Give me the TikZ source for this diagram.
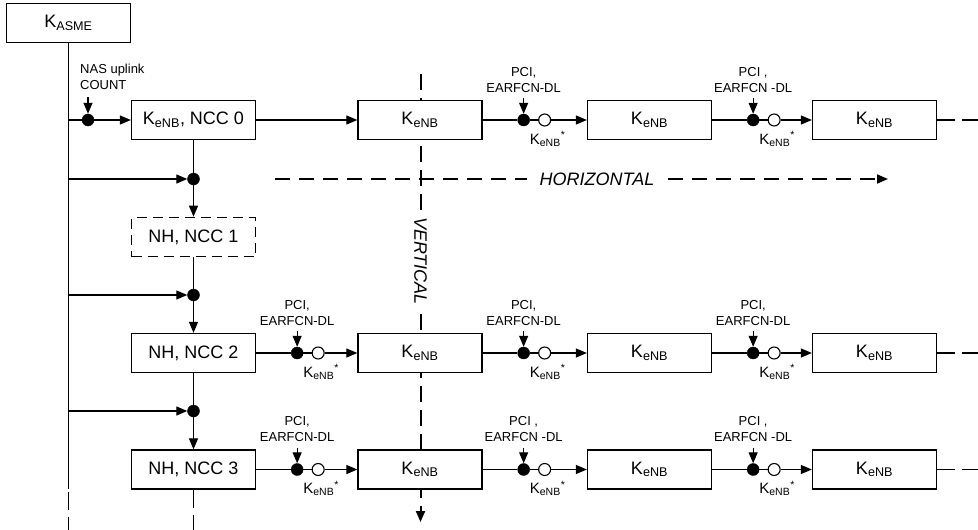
\documentclass[tikz,border=0pt]{standalone}
\usepackage{fontspec}
\setmainfont{Liberation Sans}
\usetikzlibrary{arrows.meta,calc}
\tikzset{
  box/.style={draw, fill=white, line width=1.3pt, minimum width=124pt, minimum height=39pt, inner sep=0pt, font=\fontsize{18}{20}\selectfont},
  dashbox/.style={box, line width=1.6pt, dash pattern=on 10pt off 6pt},
  fdot/.style={circle, fill=black, draw=black, minimum size=12pt, inner sep=0pt},
  odot/.style={circle, fill=white, draw=black, line width=1.1pt, minimum size=12pt, inner sep=0pt},
  lbl/.style={font=\fontsize{13}{16}\selectfont, align=center, inner sep=0pt},
  klbl/.style={font=\fontsize{15}{16}\selectfont, inner sep=0pt},
  arr/.style={-{Triangle[length=11pt,width=9pt]}},
  conn/.style={line width=1.2pt},
  vdash/.style={line width=2pt, dash pattern=on 16pt off 8pt},
  hdash/.style={line width=1.8pt, dash pattern=on 15pt off 9pt},
  tail/.style={line width=1.5pt, dash pattern=on 18pt off 7pt},
  axislbl/.style={font=\fontsize{18}{20}\selectfont\itshape, inner sep=1pt},
}
\newcommand\lnk[5]{%
  \node[fdot] (#3d) at ($(#1.east)+(41,0)$) {};
  \node[odot] (#3o) at ($(#1.east)+(62,0)$) {};
  \coordinate (#3a) at ($(#3d)+(0,-22)$);
  \draw[conn] (#1.east) -- (#3d);
  \draw[conn] (#3d) -- (#3o);
  \draw[conn,arr] (#3o) -- (#2.west);
  \node[lbl] (#3t) at ($(#3d)+(0,-40)$) {#4\\#5};
  \draw[conn,arr] (#3a) -- (#3d.north);
  \node[klbl] (#3k) at ($(#3o)+(3,19)$) {K\textsubscript{eNB}\textsuperscript{*}};
}
\begin{document}
\begin{tikzpicture}[x=1pt,y=-1pt]
\useasboundingbox (0,0) rectangle (978,530);

% axes
\coordinate (vtop) at (420.5,74);
\coordinate (vbot) at (420.5,522);
\draw[vdash,arr] (vtop) -- (vbot);
\node[axislbl, fill=white, rotate=-90] (vl) at (420.5,261) {VERTICAL};
\coordinate (h1) at (275,179);
\coordinate (h2) at (527,179);
\coordinate (h3) at (668,179);
\coordinate (h4) at (888,179);
\draw[hdash] (h1) -- (h2);
\node[axislbl] (hl) at (597,179) {HORIZONTAL};
\draw[hdash,arr] (h3) -- (h4);

% boxes
\node[box] (kasme) at (68.5,23) {K\textsubscript{ASME}};
\node[box] (b00) at (193.5,120) {K\textsubscript{eNB}, NCC 0};
\node[box] (b01) at (420,120) {K\textsubscript{eNB}};
\node[box] (b02) at (649.5,120) {K\textsubscript{eNB}};
\node[box] (b03) at (874.5,120) {K\textsubscript{eNB}};
\node[dashbox] (n1) at (193.5,237) {NH, NCC 1};
\node[box] (n2) at (193.5,353) {NH, NCC 2};
\node[box] (b21) at (420,353) {K\textsubscript{eNB}};
\node[box] (b22) at (649.5,353) {K\textsubscript{eNB}};
\node[box] (b23) at (874.5,353) {K\textsubscript{eNB}};
\node[box] (n3) at (193.5,469.5) {NH, NCC 3};
\node[box] (b31) at (420,469.5) {K\textsubscript{eNB}};
\node[box] (b32) at (649.5,469.5) {K\textsubscript{eNB}};
\node[box] (b33) at (874.5,469.5) {K\textsubscript{eNB}};

% main vertical line
\coordinate (mend) at (68.5,489);
\coordinate (mdash) at (68.5,492);
\coordinate (mbot) at (68.5,530);
\draw[conn] (kasme.south) -- (mend);
\draw[tail] (mdash) -- (mbot);

% row 0 input
\coordinate (j0) at (68.5,120);
\node[fdot] (d0) at (88,120) {};
\node[lbl, align=left, anchor=west] (nas) at (80,77) {NAS uplink\\COUNT};
\coordinate (d0a) at (88,97);
\draw[conn] (j0) -- (d0);
\draw[conn,arr] (d0) -- (b00.west);
\draw[conn,arr] (d0a) -- (d0.north);
\draw[conn,arr] (b00.east) -- (b01.west);

% vertical chain
\node[fdot] (j1) at (193.5,179) {};
\node[fdot] (j2) at (193.5,295) {};
\node[fdot] (j3) at (193.5,411) {};
\coordinate (m1) at (68.5,179);
\coordinate (m2) at (68.5,295);
\coordinate (m3) at (68.5,411);
\draw[conn,arr] (m1) -- (j1.west);
\draw[conn,arr] (m2) -- (j2.west);
\draw[conn,arr] (m3) -- (j3.west);
\draw[conn] (b00.south) -- (j1);
\draw[conn,arr] (j1.south) -- (n1.north);
\draw[conn] (n1.south) -- (j2);
\draw[conn,arr] (j2.south) -- (n2.north);
\draw[conn] (n2.south) -- (j3);
\draw[conn,arr] (j3.south) -- (n3.north);
\coordinate (n3bot) at (193.5,530);
\draw[tail] (n3.south) -- (n3bot);

% links
\lnk{b01}{b02}{la}{PCI,}{EARFCN-DL}
\lnk{b02}{b03}{lb}{PCI ,}{EARFCN -DL}
\lnk{n2}{b21}{lc}{PCI,}{EARFCN-DL}
\lnk{b21}{b22}{ld}{PCI,}{EARFCN-DL}
\lnk{b22}{b23}{le}{PCI,}{EARFCN-DL}
\lnk{n3}{b31}{lf}{PCI,}{EARFCN-DL}
\lnk{b31}{b32}{lg}{PCI ,}{EARFCN -DL}
\lnk{b32}{b33}{lh}{PCI ,}{EARFCN -DL}

% tails
\coordinate (t0) at (978,120);
\coordinate (t2) at (978,353);
\coordinate (t3) at (978,469.5);
\draw[tail] (b03.east) -- (t0);
\draw[tail] (b23.east) -- (t2);
\draw[tail] (b33.east) -- (t3);
\end{tikzpicture}
\end{document}
